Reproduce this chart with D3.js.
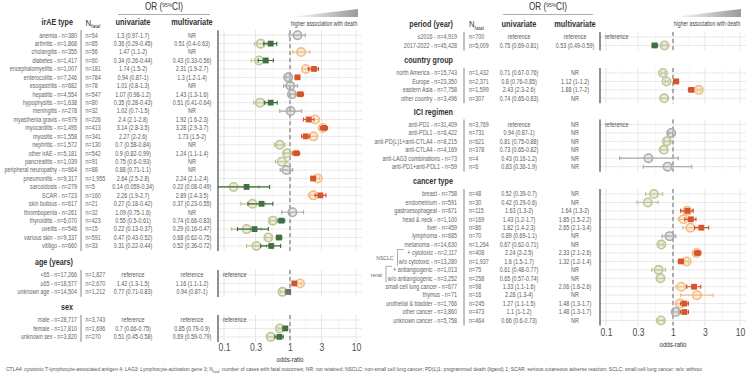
<!DOCTYPE html>
<html>
<head>
<meta charset="utf-8">
<script src="https://cdn.jsdelivr.net/npm/d3@7"></script>
<style>
  body { margin: 0; background: #fff; }
  svg { display: block; font-family: "Liberation Sans", Arial, sans-serif; }
</style>
</head>
<body>
<div id="chart"></div>
<script>
// ---- data: left half ----
const irAETypes = ["anemia", "arthritis", "cholangitis", "diabetes", "encephalomyelitis", "enterocolitis", "esogastritis", "hepatitis", "hypophysitis", "meningitis", "myasthenia gravis", "myocarditis", "myositis", "nephritis", "other irAE", "pancreatitis", "peripheral neuropathy", "pneumonitis", "sarcoidosis", "SCAR", "skin bullous", "thrombopenia", "thyroiditis", "uveitis", "various skin", "vitiligo"];
const irAECases = [380, 1868, 355, 1417, 1007, 7246, 682, 4554, 1638, 278, 979, 1495, 1558, 1572, 5181, 1039, 664, 9317, 279, 723, 617, 261, 6070, 546, 9337, 660];
const irAEFatal = [54, 85, 56, 60, 181, 784, 78, 547, 80, 32, 226, 413, 341, 130, 542, 91, 88, 1955, 5, 160, 21, 32, 423, 15, 591, 33];
const irAEUni = [[1.3, 0.97, 1.7], [0.36, 0.29, 0.45], [1.47, 1.1, 2], [0.34, 0.26, 0.44], [1.74, 1.5, 2], [0.94, 0.87, 1], [1.01, 0.8, 1.3], [1.07, 0.98, 1.2], [0.35, 0.28, 0.43], [1.02, 0.7, 1.5], [2.4, 2.1, 2.8], [3.14, 2.8, 3.5], [2.27, 2, 2.6], [0.7, 0.58, 0.84], [0.9, 0.82, 0.99], [0.75, 0.6, 0.93], [0.88, 0.71, 1.1], [2.64, 2.5, 2.8], [0.14, 0.059, 0.34], [2.26, 1.9, 2.7], [0.27, 0.18, 0.42], [1.09, 0.75, 1.6], [0.55, 0.5, 0.61], [0.22, 0.13, 0.37], [0.47, 0.43, 0.52], [0.31, 0.22, 0.44]];
const irAEMulti = [null, [0.51, 0.4, 0.63], null, [0.43, 0.33, 0.56], [2.31, 1.9, 2.7], [1.3, 1.2, 1.4], null, [1.43, 1.3, 1.6], [0.51, 0.41, 0.64], null, [1.92, 1.6, 2.3], [3.28, 2.9, 3.7], [1.73, 1.5, 2], null, [1.24, 1.1, 1.4], null, null, [2.24, 2.1, 2.4], [0.22, 0.08, 0.49], [2.89, 2.4, 3.5], [0.37, 0.23, 0.55], null, [0.74, 0.66, 0.83], [0.29, 0.16, 0.47], [0.68, 0.62, 0.75], [0.52, 0.36, 0.72]];

const ageGroups = ["<65", "≥65", "unknown age"];
const ageCases = [17266, 18577, 14504];
const ageFatal = [1827, 2670, 1212];
const ageUni = ["ref", [1.42, 1.3, 1.5], [0.77, 0.71, 0.83]];
const ageMulti = ["ref", [1.16, 1.1, 1.2], [0.94, 0.87, 1]];

const sexGroups = ["male", "female", "unknown sex"];
const sexCases = [28717, 17810, 3820];
const sexFatal = [3743, 1696, 270];
const sexUni = ["ref", [0.7, 0.66, 0.75], [0.51, 0.45, 0.58]];
const sexMulti = ["ref", [0.85, 0.79, 0.9], [0.69, 0.59, 0.79]];

// ---- data: right half ----
const periodGroups = ["≤2016", "2017-2022"];
const periodCases = [4919, 45428];
const periodFatal = [700, 5009];
const periodUni = ["ref", [0.75, 0.69, 0.81]];
const periodMulti = ["ref", [0.53, 0.49, 0.59]];

const countryGroups = ["north America", "Europe", "eastern Asia", "other country"];
const countryCases = [15743, 23350, 7758, 3496];
const countryFatal = [1432, 2371, 1599, 307];
const countryUni = [[0.71, 0.67, 0.76], [0.8, 0.76, 0.85], [2.43, 2.3, 2.6], [0.74, 0.65, 0.83]];
const countryMulti = [null, [1.12, 1.02, 1.2], [1.88, 1.7, 2], null];

const iciRegimens = ["anti-PD1", "anti-PDL1", "anti-PD(L)1+anti-CTLA4", "anti-CTLA4", "anti-LAG3 combinations", "anti-PD1+anti-PDL1"];
const iciCases = [31409, 6422, 8215, 4169, 73, 59];
const iciFatal = [3769, 731, 621, 378, 4, 6];
const iciUni = ["ref", [0.94, 0.87, 1], [0.81, 0.75, 0.88], [0.73, 0.65, 0.82], [0.43, 0.16, 1.2], [0.83, 0.36, 1.9]];
const iciMulti = [null, null, null, null, null, null];

const cancerTypes = ["breast", "endometrium", "gastroesophageal", "head & neck", "liver", "lymphoma", "melanoma", "+ cytotoxic", "w/o cytotoxic", "+ antiangiogenic", "w/o antiangiogenic", "small cell lung cancer", "thymus", "urothelial & bladder", "other cancer", "unknown cancer"];
const cancerCases = [758, 591, 671, 1100, 459, 685, 14630, 2117, 13280, 1013, 3252, 677, 71, 1766, 3860, 5758];
const cancerFatal = [48, 30, 115, 169, 86, 70, 1264, 408, 1937, 75, 258, 98, 16, 245, 473, 464];
const cancerUni = [[0.52, 0.39, 0.7], [0.42, 0.29, 0.6], [1.63, 1.3, 2], [1.43, 1.2, 1.7], [1.82, 1.4, 2.3], [0.89, 0.69, 1.1], [0.67, 0.62, 0.71], [2.24, 2, 2.5], [1.6, 1.5, 1.7], [0.61, 0.48, 0.77], [0.65, 0.57, 0.74], [1.33, 1.1, 1.6], [2.28, 1.3, 4], [1.27, 1.1, 1.5], [1.1, 1, 1.2], [0.66, 0.6, 0.73]];
const cancerMulti = [null, null, [1.64, 1.3, 2], [1.85, 1.5, 2.2], [2.65, 2.1, 3.4], null, null, [2.33, 2.1, 2.6], [1.32, 1.2, 1.4], null, null, [2.06, 1.6, 2.6], null, [1.48, 1.3, 1.7], [1.48, 1.3, 1.7], null];
const cancerBrackets = [{ name: "NSCLC", rows: [7, 8] }, { name: "renal", rows: [9, 10] }];

const oddsTicks = [0.1, 0.3, 1, 3, 10];
const footnote = ["CTLA4: cytotoxic T-lymphocyte-associated antigen 4; LAG3: Lymphocyte-activation gene 3; N", "fatal", ": number of cases with fatal outcomes; NR: not retained; NSCLC: non-small cell lung cancer; PD(L)1: programmed death (ligand) 1;  SCAR: serious cutaneous adverse reaction; SCLC: small-cell lung cancer; w/o: without"];

// ---- setup ----
const width = 747, height = 378;
const SX = 0.82;      // horizontal squeeze to mimic a narrow font
const STEP = 8.43;    // row spacing
const fmtOR = d3.format(".3~r"), fmtCI = d3.format(".2~r"), fmtN = d3.format(",");
const uniColor = { up: "#f2be88", down: "#c1c597", ns: "#acacac" };
const multiColor = { up: "#d5542b", down: "#40703f", ns: "#6f6f6f" };
const sig = (d) => (d[1] > 1 ? "up" : d[2] < 1 ? "down" : "ns");
const ciText = (d) => `${fmtOR(d[0])} (${fmtCI(d[1])}-${fmtCI(d[2])})`;

const svg = d3.select("#chart").append("svg").attr("width", width).attr("height", height);
const defs = svg.append("defs");
const grad = defs.append("linearGradient").attr("id", "wedge");
grad.append("stop").attr("offset", "0").attr("stop-color", "#ffffff");
grad.append("stop").attr("offset", "1").attr("stop-color", "#9a9a9a");

function txt(g, x, y, s, size, opts = {}) {
  return g.append("text")
    .attr("transform", `translate(${x},${y}) scale(${SX},1)`)
    .attr("dy", "0.35em")
    .attr("text-anchor", opts.anchor || "start")
    .style("font-size", size + "px")
    .style("font-weight", opts.bold ? "bold" : null)
    .style("fill", opts.color || "#5a5a5a")
    .text(s);
}

const halves = [
  {
    id: "L", labelX: 77, titleX: 73, sepX: 81, nX: 85.5, uniX: 133, multiX: 192,
    orX: 164, orLine: [118, 210], px: [218, 362], ticksPx: [224, 356],
    axisY: 343.5, xlabY: 359, wedge: [290, 358],
    facets: [
      { title: "irAE type", header: true, y0: 35.2, labels: irAETypes, cases: irAECases, fatal: irAEFatal, uni: irAEUni, multi: irAEMulti },
      { title: "age (years)", y0: 275, labels: ageGroups, cases: ageCases, fatal: ageFatal, uni: ageUni, multi: ageMulti },
      { title: "sex", y0: 320, labels: sexGroups, cases: sexCases, fatal: sexFatal, uni: sexUni, multi: sexMulti }
    ]
  },
  {
    id: "R", labelX: 457, titleX: 453, sepX: 464, nX: 469, uniX: 519, multiX: 575,
    orX: 548, orLine: [503, 593], px: [600, 746], ticksPx: [606, 740],
    axisY: 328.5, xlabY: 344, wedge: [673, 741],
    facets: [
      { title: "period (year)", header: true, y0: 37, labels: periodGroups, cases: periodCases, fatal: periodFatal, uni: periodUni, multi: periodMulti },
      { title: "country group", y0: 73, labels: countryGroups, cases: countryCases, fatal: countryFatal, uni: countryUni, multi: countryMulti },
      { title: "ICI regimen", y0: 124.5, labels: iciRegimens, cases: iciCases, fatal: iciFatal, uni: iciUni, multi: iciMulti },
      { title: "cancer type", y0: 194, labels: cancerTypes, cases: cancerCases, fatal: cancerFatal, uni: cancerUni, multi: cancerMulti, brackets: cancerBrackets }
    ]
  }
];

halves.forEach(drawHalf);

function drawHalf(h) {
  const g = svg.append("g");
  const x = d3.scaleLog().domain([0.1, 10]).range(h.ticksPx);
  const minors = d3.pairs(oddsTicks, (a, b) => Math.sqrt(a * b));

  defs.append("clipPath").attr("id", "clip" + h.id)
    .append("rect").attr("x", h.px[0]).attr("y", 0)
    .attr("width", h.px[1] - h.px[0]).attr("height", height);

  // OR (95%CI) title + underline
  const t = g.append("text")
    .attr("transform", `translate(${h.orX},10) scale(${SX},1)`)
    .attr("text-anchor", "middle").style("font-size", "10px").style("fill", "#333");
  t.append("tspan").text("OR (");
  t.append("tspan").attr("dy", -3.5).style("font-size", "6px").text("95%");
  t.append("tspan").attr("dy", 3.5).text("CI)");
  g.append("line").attr("x1", h.orLine[0]).attr("x2", h.orLine[1])
    .attr("y1", 14.5).attr("y2", 14.5).style("stroke", "#999").style("stroke-width", 0.8);

  // wedge + caption
  const [w0, w1] = h.wedge;
  g.append("polygon").attr("points", `${w0},17 ${w1},17 ${w1},9`).style("fill", "url(#wedge)");
  txt(g, (w0 + w1) / 2, 24, "higher association with death", 6.3, { anchor: "middle", color: "#444" });

  h.facets.forEach((f) => {
    const n = f.labels.length;
    const y = d3.scalePoint().domain(d3.range(n)).range([f.y0, f.y0 + (n - 1) * STEP]);
    const top = f.y0 - 0.6 * STEP, bot = f.y0 + (n - 1) * STEP + 0.6 * STEP;
    const titleY = f.y0 - 13;

    txt(g, h.titleX, titleY, f.title, 8.8, { anchor: "end", bold: true, color: "#333" });
    if (f.header) {
      const nt = g.append("text")
        .attr("transform", `translate(${h.nX},${titleY}) scale(${SX},1)`)
        .attr("dy", "0.35em").style("font-size", "9.5px").style("fill", "#333");
      nt.append("tspan").text("N");
      nt.append("tspan").attr("dy", 2.5).style("font-size", "6px").text("fatal");
      txt(g, h.uniX, titleY, "univariate", 9, { anchor: "middle", bold: true, color: "#333" });
      txt(g, h.multiX, titleY, "multivariate", 9, { anchor: "middle", bold: true, color: "#333" });
    }

    // separator between labels and numbers
    g.append("line").attr("x1", h.sepX).attr("x2", h.sepX).attr("y1", top).attr("y2", bot)
      .style("stroke", "#777").style("stroke-width", 0.9);

    // table text
    f.labels.forEach((lab, i) => {
      txt(g, h.labelX, y(i), `${lab} - n=${fmtN(f.cases[i])}`, 6.6, { anchor: "end", color: "#666" });
      txt(g, h.nX, y(i), `n=${fmtN(f.fatal[i])}`, 6.6, { color: "#666" });
      const u = f.uni[i], m = f.multi[i];
      txt(g, h.uniX, y(i), u === "ref" ? "reference" : ciText(u), 6.6, { anchor: "middle" });
      txt(g, h.multiX, y(i), m === "ref" ? "reference" : m ? ciText(m) : "NR", 6.6, { anchor: "middle" });
    });

    // group brackets (NSCLC / renal)
    (f.brackets || []).forEach((b, k) => {
      const ya = y(b.rows[0]) - 3.5, yb = y(b.rows[1]) + 4;
      const bx = k === 0 ? 397.5 : 386;
      g.append("path").attr("d", `M${bx + 6},${ya} H${bx} V${yb}`)
        .style("fill", "none").style("stroke", "#888").style("stroke-width", 0.7);
      txt(g, bx - 4, (ya + yb) / 2, b.name, 6.2, { anchor: "end", color: "#666" });
    });

    // panel grid
    const p = g.append("g");
    p.selectAll(".minor").data(minors).join("line")
      .attr("x1", (d) => x(d)).attr("x2", (d) => x(d)).attr("y1", top).attr("y2", bot)
      .style("stroke", "#f0f0f0").style("stroke-width", 0.6);
    p.selectAll(".major").data(oddsTicks).join("line")
      .attr("x1", (d) => x(d)).attr("x2", (d) => x(d)).attr("y1", top).attr("y2", bot)
      .style("stroke", "#e3e3e3").style("stroke-width", 0.9);
    p.selectAll(".hgrid").data(d3.range(n)).join("line")
      .attr("x1", h.px[0]).attr("x2", h.px[1]).attr("y1", (d) => y(d)).attr("y2", (d) => y(d))
      .style("stroke", "#e6e6e6").style("stroke-width", 0.9);
    p.append("line").attr("x1", x(1)).attr("x2", x(1)).attr("y1", top).attr("y2", bot)
      .style("stroke", "#666").style("stroke-width", 1).style("stroke-dasharray", "4,3");
    p.append("line").attr("x1", h.px[0]).attr("x2", h.px[0]).attr("y1", top).attr("y2", bot)
      .style("stroke", "#555").style("stroke-width", 1.3);

    f.uni.forEach((u, i) => {
      if (u === "ref") txt(p, h.px[0] + 5, y(i), "reference", 6.8, { color: "#555" });
    });

    const marks = p.append("g").attr("clip-path", `url(#clip${h.id})`);
    const errbar = (d, i, color) => {
      marks.append("path")
        .attr("d", `M${x(d[1])},${y(i) - 2} V${y(i) + 2} M${x(d[1])},${y(i)} H${x(d[2])} M${x(d[2])},${y(i) - 2} V${y(i) + 2}`)
        .style("fill", "none").style("stroke", color).style("stroke-width", 1.2);
    };

    // univariate: open circles
    f.uni.forEach((u, i) => {
      if (!Array.isArray(u)) return;
      const c = uniColor[sig(u)];
      marks.append("circle").attr("cx", x(u[0])).attr("cy", y(i)).attr("r", 4.2)
        .style("fill", c).style("fill-opacity", 0.3).style("stroke", c).style("stroke-width", 1.6);
      errbar(u, i, c);
    });
    // multivariate: filled squares
    f.multi.forEach((m, i) => {
      if (!Array.isArray(m)) return;
      const c = multiColor[sig(m)];
      errbar(m, i, c);
      marks.append("rect").attr("x", x(m[0]) - 2.9).attr("y", y(i) - 2.9)
        .attr("width", 5.8).attr("height", 5.8).style("fill", c);
    });
  });

  // bottom axis
  const ax = g.append("g").attr("transform", `translate(0,${h.axisY})`)
    .call(d3.axisBottom(x).tickValues(oddsTicks).tickFormat(d3.format("~g")).tickSize(0).tickPadding(0));
  ax.select(".domain").remove();
  ax.selectAll("text")
    .attr("transform", `scale(${SX},1)`)
    .style("font-size", "10.5px").style("fill", "#4d4d4d")
    .style("font-family", "'Liberation Sans', Arial, sans-serif");
  txt(g, x(1), h.xlabY, "odds-ratio", 7.4, { anchor: "middle", color: "#333" });
}

// footnote
const fn = svg.append("text")
  .attr("transform", `translate(6,369) scale(${SX},1)`)
  .attr("dy", "0.35em").style("font-size", "6.1px").style("fill", "#555");
fn.append("tspan").text(footnote[0]);
fn.append("tspan").attr("dy", 1.5).style("font-size", "4.2px").text(footnote[1]);
fn.append("tspan").attr("dy", -1.5).text(footnote[2]);
</script>
</body>
</html>
